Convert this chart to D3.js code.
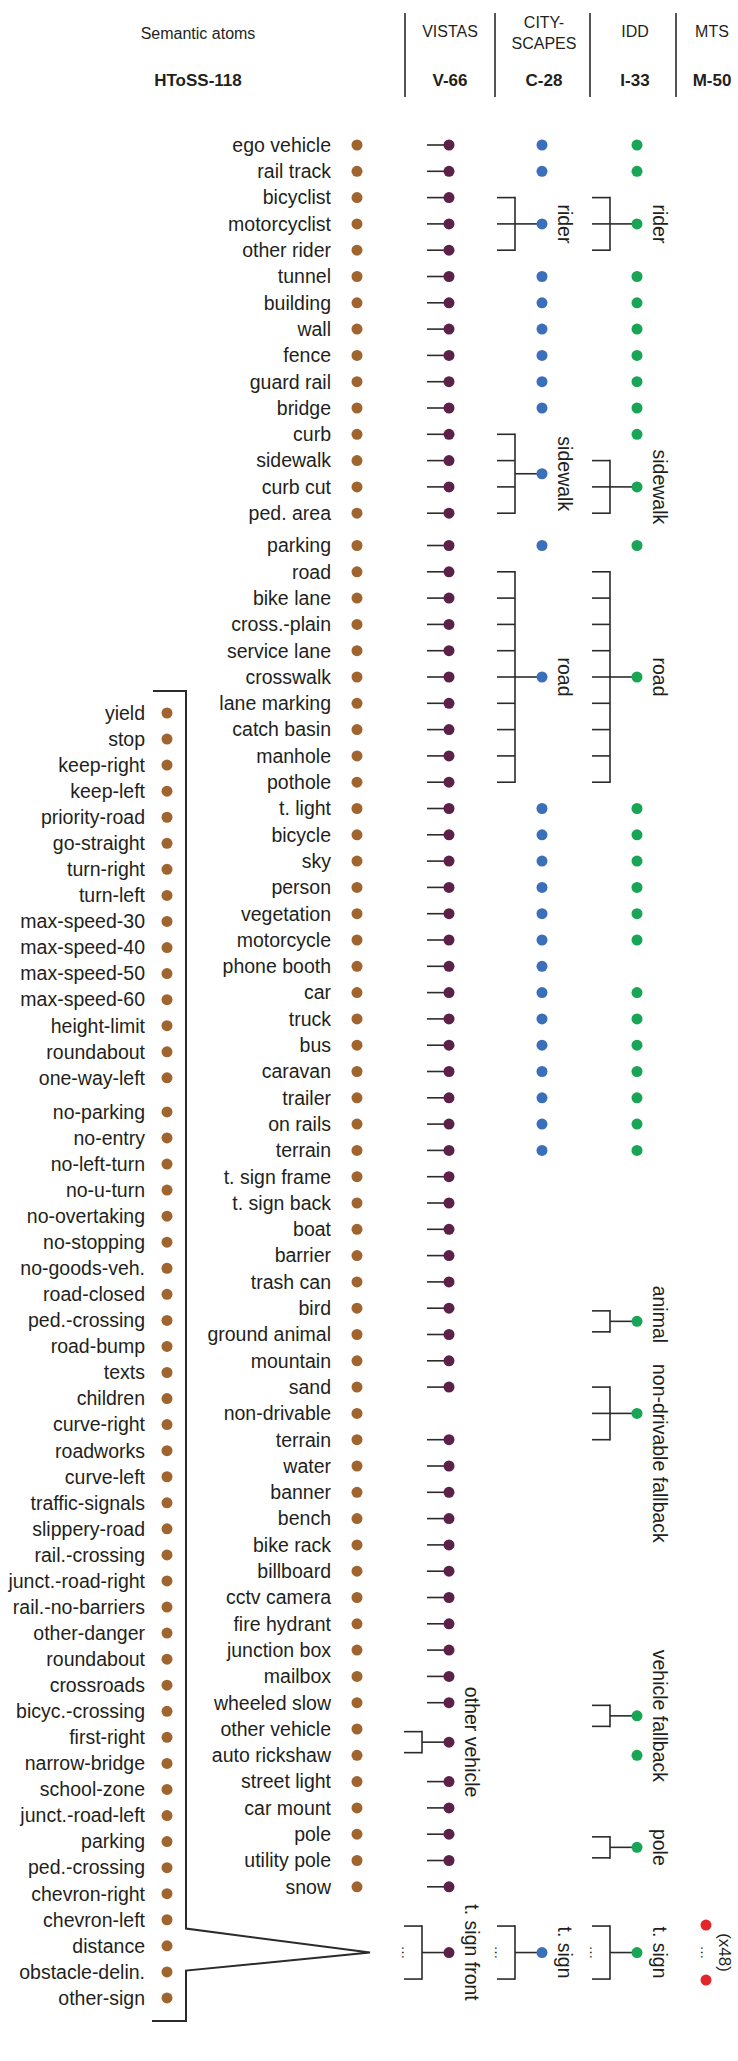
<!DOCTYPE html>
<html>
<head>
    <meta charset="utf-8">
    <title>Semantic atoms</title>
    <style>
        body { margin: 0; background: #fff; }
        text { font-family: "Liberation Sans", Arial, Helvetica, sans-serif; fill: #231f20; }
    </style>
</head>
<body>
<div id="plot"></div>
<script src="https://cdn.jsdelivr.net/npm/d3@7"></script>
<script>

    // semantic atoms of the main list (top to bottom)
    let atoms = ['ego vehicle', 'rail track', 'bicyclist', 'motorcyclist', 'other rider',
        'tunnel', 'building', 'wall', 'fence', 'guard rail', 'bridge', 'curb', 'sidewalk',
        'curb cut', 'ped. area', 'parking', 'road', 'bike lane', 'cross.-plain', 'service lane',
        'crosswalk', 'lane marking', 'catch basin', 'manhole', 'pothole', 't. light', 'bicycle',
        'sky', 'person', 'vegetation', 'motorcycle', 'phone booth', 'car', 'truck', 'bus',
        'caravan', 'trailer', 'on rails', 'terrain', 't. sign frame', 't. sign back', 'boat',
        'barrier', 'trash can', 'bird', 'ground animal', 'mountain', 'sand', 'non-drivable',
        'terrain', 'water', 'banner', 'bench', 'bike rack', 'billboard', 'cctv camera',
        'fire hydrant', 'junction box', 'mailbox', 'wheeled slow', 'other vehicle',
        'auto rickshaw', 'street light', 'car mount', 'pole', 'utility pole', 'snow'];

    // traffic sign atoms (left list)
    let signAtoms = ['yield', 'stop', 'keep-right', 'keep-left', 'priority-road', 'go-straight',
        'turn-right', 'turn-left', 'max-speed-30', 'max-speed-40', 'max-speed-50', 'max-speed-60',
        'height-limit', 'roundabout', 'one-way-left', 'no-parking', 'no-entry', 'no-left-turn',
        'no-u-turn', 'no-overtaking', 'no-stopping', 'no-goods-veh.', 'road-closed',
        'ped.-crossing', 'road-bump', 'texts', 'children', 'curve-right', 'roadworks',
        'curve-left', 'traffic-signals', 'slippery-road', 'rail.-crossing', 'junct.-road-right',
        'rail.-no-barriers', 'other-danger', 'roundabout', 'crossroads', 'bicyc.-crossing',
        'first-right', 'narrow-bridge', 'school-zone', 'junct.-road-left', 'parking',
        'ped.-crossing', 'chevron-right', 'chevron-left', 'distance', 'obstacle-delin.',
        'other-sign'];

    // header
    let datasets = ['VISTAS', 'CITY-\nSCAPES', 'IDD', 'MTS'];
    let datasetCodes = ['V-66', 'C-28', 'I-33', 'M-50'];
    let leftTitle = 'Semantic atoms';
    let leftCode = 'HToSS-118';

    // VISTAS
    let vistasMissing = ['non-drivable'];
    let vistasGroups = [
        {label: 'other vehicle', members: ['other vehicle', 'auto rickshaw']}
    ];

    // Cityscapes
    let cityscapesSingles = ['ego vehicle', 'rail track', 'tunnel', 'building', 'wall', 'fence',
        'guard rail', 'bridge', 'parking', 't. light', 'bicycle', 'sky', 'person', 'vegetation',
        'motorcycle', 'phone booth', 'car', 'truck', 'bus', 'caravan', 'trailer', 'on rails',
        'terrain'];
    let cityscapesGroups = [
        {label: 'rider', members: ['bicyclist', 'motorcyclist', 'other rider']},
        {label: 'sidewalk', members: ['curb', 'sidewalk', 'curb cut', 'ped. area']},
        {label: 'road', members: ['road', 'bike lane', 'cross.-plain', 'service lane', 'crosswalk',
            'lane marking', 'catch basin', 'manhole', 'pothole']}
    ];

    // IDD
    let iddSingles = ['ego vehicle', 'rail track', 'tunnel', 'building', 'wall', 'fence',
        'guard rail', 'bridge', 'curb', 'parking', 't. light', 'bicycle', 'sky', 'person',
        'vegetation', 'motorcycle', 'car', 'truck', 'bus', 'caravan', 'trailer', 'on rails',
        'terrain', 'auto rickshaw'];
    let iddGroups = [
        {label: 'rider', members: ['bicyclist', 'motorcyclist', 'other rider']},
        {label: 'sidewalk', members: ['sidewalk', 'curb cut', 'ped. area']},
        {label: 'road', members: ['road', 'bike lane', 'cross.-plain', 'service lane', 'crosswalk',
            'lane marking', 'catch basin', 'manhole', 'pothole']},
        {label: 'animal', members: ['bird', 'ground animal']},
        {label: 'non-drivable fallback', members: ['sand', 'non-drivable', 'terrain']},
        {label: 'vehicle fallback', members: ['wheeled slow', 'other vehicle']},
        {label: 'pole', members: ['pole', 'utility pole']}
    ];

    // traffic sign node per dataset
    let signLabels = ['t. sign front', 't. sign', 't. sign'];
    let mtsSignCount = '(x48)';

    // ---------- layout ----------
    function translate(x, y) {
      return 'translate(' + x + ', ' + y + ')';
    }

    let svgWidth = 738;
    let svgHeight = 2061;
    let step = 26.3;
    let svg = d3.select('#plot')
      .append('svg')
        .attr('width', svgWidth)
        .attr('height', svgHeight);

    let colors = {
        atom: '#a0652f',
        vistas: '#5b2149',
        cityscapes: '#3b6fba',
        idd: '#19a556',
        mts: '#e3262a',
        line: '#2b2b2b'
    };

    // rows: linear in index, small extra gap before 'parking'
    let yLin = d3.scaleLinear().domain([0, atoms.length - 1]).range([145, 145 + (atoms.length - 1) * step]);
    let yMain = i => yLin(i) + (i >= 15 ? 6 : 0);
    let ySignLin = d3.scaleLinear().domain([0, signAtoms.length - 1]).range([713, 713 + (signAtoms.length - 1) * 26.06]);
    let ySign = i => ySignLin(i) + (i >= 15 ? 8 : 0);
    let tSignY = yMain(atoms.length - 1) + 2.5 * step;

    let colX = d3.scaleOrdinal().domain(datasets).range([450, 544, 635, 712]);
    let dotX = {vistas: 449, cityscapes: 542, idd: 637, mts: 706};
    let labelShift = {'non-drivable fallback': 40, 'animal': -7};
    let r = 5.5;

    // group members: later members are searched after the previous one (terrain appears twice)
    function resolve(names) {
        let out = [];
        let from = 0;
        names.forEach(function(n, k) {
            let idx = k === 0 ? atoms.indexOf(n) : atoms.indexOf(n, from);
            out.push(idx);
            from = idx + 1;
        });
        return out;
    }

    // singles use the first occurrence of a name
    function resolve0(names) {
        return names.map(n => atoms.indexOf(n));
    }

    // ---------- header ----------
    let head = svg.append('g');
    head.append('text')
        .attr('x', 198).attr('y', 39)
        .attr('text-anchor', 'middle')
        .style('font-size', '16px')
        .text(leftTitle);
    head.append('text')
        .attr('x', 198).attr('y', 86)
        .attr('text-anchor', 'middle')
        .style('font-size', '17px')
        .style('font-weight', 'bold')
        .text(leftCode);

    head.selectAll('.sep')
        .data([405, 495, 590, 676])
        .enter()
        .append('line')
          .attr('x1', d => d).attr('x2', d => d)
          .attr('y1', 13).attr('y2', 97)
          .style('stroke', colors.line)
          .style('stroke-width', 1.6);

    datasets.forEach(function(d, i) {
        let lines = d.split('\n');
        let t = head.append('text')
            .attr('text-anchor', 'middle')
            .style('font-size', '16px');
        lines.forEach(function(l, j) {
            t.append('tspan')
                .attr('x', colX(d))
                .attr('y', lines.length === 1 ? 37 : 28 + j * 21)
                .text(l);
        });
        head.append('text')
            .attr('x', colX(d)).attr('y', 86)
            .attr('text-anchor', 'middle')
            .style('font-size', '17px')
            .style('font-weight', 'bold')
            .text(datasetCodes[i]);
    });

    // ---------- atom lists ----------
    let mainList = svg.append('g');
    mainList.selectAll('text')
        .data(atoms)
        .enter()
        .append('text')
          .attr('x', 331)
          .attr('y', (d, i) => yMain(i))
          .attr('dy', '0.35em')
          .attr('text-anchor', 'end')
          .style('font-size', '19.5px')
          .text(d => d);
    mainList.selectAll('circle')
        .data(atoms)
        .enter()
        .append('circle')
          .attr('cx', 357)
          .attr('cy', (d, i) => yMain(i))
          .attr('r', r)
          .style('fill', colors.atom);

    let signList = svg.append('g');
    signList.selectAll('text')
        .data(signAtoms)
        .enter()
        .append('text')
          .attr('x', 145)
          .attr('y', (d, i) => ySign(i))
          .attr('dy', '0.35em')
          .attr('text-anchor', 'end')
          .style('font-size', '19.5px')
          .text(d => d);
    signList.selectAll('circle')
        .data(signAtoms)
        .enter()
        .append('circle')
          .attr('cx', 167)
          .attr('cy', (d, i) => ySign(i))
          .attr('r', r)
          .style('fill', colors.atom);

    // big bracket around the traffic signs, pointing to the t. sign node
    let bracketTop = ySign(0) - 22;
    let bracketBottom = ySign(signAtoms.length - 1) + 23;
    let bracketPath = d3.path();
    bracketPath.moveTo(153, bracketTop);
    bracketPath.lineTo(186, bracketTop);
    bracketPath.lineTo(186, tSignY - 24);
    bracketPath.lineTo(370, tSignY);
    bracketPath.lineTo(186, tSignY + 18);
    bracketPath.lineTo(186, bracketBottom);
    bracketPath.lineTo(152, bracketBottom);
    signList.append('path')
        .attr('d', bracketPath.toString())
        .style('fill', 'none')
        .style('stroke', colors.line)
        .style('stroke-width', 2);

    // ---------- dataset columns ----------
    function drawLabel(g, text, x, y, size) {
        g.append('text')
            .attr('transform', translate(x, y) + ' rotate(90)')
            .attr('dy', '0.35em')
            .attr('text-anchor', 'middle')
            .style('font-size', (size || 19.5) + 'px')
            .text(text);
    }

    function drawGroup(g, key, group) {
        let x = dotX[key];
        let ys = resolve(group.members).map(yMain);
        let ticks = ys;
        if (ys.length === 2) {
            let m = (ys[0] + ys[1]) / 2;
            ticks = [m - 10.5, m + 10.5];
        }
        let cy = (ys[0] + ys[ys.length - 1]) / 2;
        ticks.forEach(function(t) {
            g.append('line')
                .attr('x1', x - 45).attr('x2', x - 27)
                .attr('y1', t).attr('y2', t)
                .style('stroke', colors.line).style('stroke-width', 1.6);
        });
        g.append('line')
            .attr('x1', x - 27).attr('x2', x - 27)
            .attr('y1', d3.min(ticks) - 0.8).attr('y2', d3.max(ticks) + 0.8)
            .style('stroke', colors.line).style('stroke-width', 1.6);
        g.append('line')
            .attr('x1', x - 27).attr('x2', x)
            .attr('y1', cy).attr('y2', cy)
            .style('stroke', colors.line).style('stroke-width', 1.6);
        g.append('circle')
            .attr('cx', x).attr('cy', cy).attr('r', r)
            .style('fill', colors[key]);
        drawLabel(g, group.label, x + 23, cy + (labelShift[group.label] || 0));
    }

    function drawSign(g, key, label) {
        let x = dotX[key];
        [tSignY - 26.5, tSignY + 26.5].forEach(function(t) {
            g.append('line')
                .attr('x1', x - 45).attr('x2', x - 27)
                .attr('y1', t).attr('y2', t)
                .style('stroke', colors.line).style('stroke-width', 1.6);
        });
        g.append('line')
            .attr('x1', x - 27).attr('x2', x - 27)
            .attr('y1', tSignY - 27.3).attr('y2', tSignY + 27.3)
            .style('stroke', colors.line).style('stroke-width', 1.6);
        g.append('line')
            .attr('x1', x - 27).attr('x2', x)
            .attr('y1', tSignY).attr('y2', tSignY)
            .style('stroke', colors.line).style('stroke-width', 1.6);
        drawLabel(g, '\u2026', x - 42, tSignY, 14);
        g.append('circle')
            .attr('cx', x).attr('cy', tSignY).attr('r', r)
            .style('fill', colors[key]);
        drawLabel(g, label, x + 23, tSignY);
    }

    // VISTAS: every atom on its own except the grouped and missing ones
    let vistas = svg.append('g');
    let vistasGrouped = [];
    vistasGroups.forEach(gr => resolve(gr.members).forEach(i => vistasGrouped.push(i)));
    let vistasSingles = atoms.map((d, i) => i)
        .filter(i => vistasMissing.indexOf(atoms[i]) < 0 && vistasGrouped.indexOf(i) < 0);
    vistas.selectAll('line.stub')
        .data(vistasSingles)
        .enter()
        .append('line')
          .attr('class', 'stub')
          .attr('x1', dotX.vistas - 22).attr('x2', dotX.vistas)
          .attr('y1', i => yMain(i)).attr('y2', i => yMain(i))
          .style('stroke', colors.line)
          .style('stroke-width', 1.6);
    vistas.selectAll('circle.single')
        .data(vistasSingles)
        .enter()
        .append('circle')
          .attr('class', 'single')
          .attr('cx', dotX.vistas)
          .attr('cy', i => yMain(i))
          .attr('r', r)
          .style('fill', colors.vistas);
    vistasGroups.forEach(gr => drawGroup(vistas, 'vistas', gr));
    drawSign(vistas, 'vistas', signLabels[0]);

    // Cityscapes
    let city = svg.append('g');
    city.selectAll('circle.single')
        .data(resolve0(cityscapesSingles))
        .enter()
        .append('circle')
          .attr('class', 'single')
          .attr('cx', dotX.cityscapes)
          .attr('cy', i => yMain(i))
          .attr('r', r)
          .style('fill', colors.cityscapes);
    cityscapesGroups.forEach(gr => drawGroup(city, 'cityscapes', gr));
    drawSign(city, 'cityscapes', signLabels[1]);

    // IDD
    let idd = svg.append('g');
    idd.selectAll('circle.single')
        .data(resolve0(iddSingles))
        .enter()
        .append('circle')
          .attr('class', 'single')
          .attr('cx', dotX.idd)
          .attr('cy', i => yMain(i))
          .attr('r', r)
          .style('fill', colors.idd);
    iddGroups.forEach(gr => drawGroup(idd, 'idd', gr));
    drawSign(idd, 'idd', signLabels[2]);

    // MTS: only the traffic signs, kept separate
    let mts = svg.append('g');
    mts.selectAll('circle')
        .data([tSignY - 27.5, tSignY + 27.5])
        .enter()
        .append('circle')
          .attr('cx', dotX.mts)
          .attr('cy', d => d)
          .attr('r', r)
          .style('fill', colors.mts);
    drawLabel(mts, '\u2026', dotX.mts, tSignY, 14);
    drawLabel(mts, mtsSignCount, dotX.mts + 19, tSignY, 17);

</script>
</body>
</html>
